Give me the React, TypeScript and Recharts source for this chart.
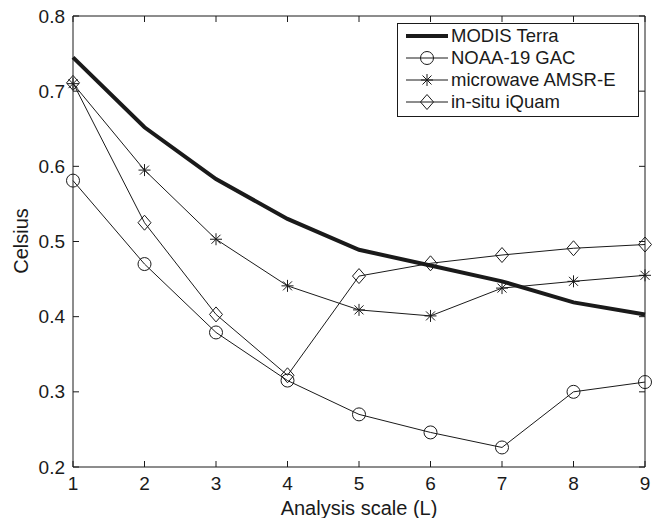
import React from "react";
import { LineChart, Line, XAxis, YAxis } from "recharts";

const scales = [1, 2, 3, 4, 5, 6, 7, 8, 9];
const modisTerra = [0.745, 0.652, 0.583, 0.53, 0.489, 0.468, 0.447, 0.419, 0.403];
const noaa19 = [0.581, 0.47, 0.379, 0.315, 0.27, 0.246, 0.226, 0.3, 0.313];
const amsrE = [0.71, 0.595, 0.503, 0.441, 0.409, 0.401, 0.438, 0.447, 0.455];
const iQuam = [0.711, 0.525, 0.403, 0.322, 0.454, 0.471, 0.482, 0.491, 0.496];
const yTicks = [0.2, 0.3, 0.4, 0.5, 0.6, 0.7, 0.8];

const seriesNames = ["MODIS Terra", "NOAA-19 GAC", "microwave AMSR-E", "in-situ iQuam"];
const markers = ["none", "circle", "star", "diamond"];

const data = scales.map((s, i) => ({
  scale: s,
  modis: modisTerra[i],
  noaa: noaa19[i],
  amsr: amsrE[i],
  iquam: iQuam[i],
}));

const FONT = "'Liberation Sans', Arial, Helvetica, sans-serif";
const INK = "#1a1a1a";
const TICK_FS = 19;
const LABEL_FS = 20;

function Marker({ kind, cx, cy }: { kind: string; cx: number; cy: number }) {
  if (kind === "circle") {
    return <circle cx={cx} cy={cy} r={6.5} fill="none" stroke={INK} strokeWidth={1} />;
  }
  if (kind === "star") {
    const s = 6;
    const d = 4.5;
    return (
      <g stroke={INK} strokeWidth={1}>
        <line x1={cx - s} y1={cy} x2={cx + s} y2={cy} />
        <line x1={cx} y1={cy - s} x2={cx} y2={cy + s} />
        <line x1={cx - d} y1={cy - d} x2={cx + d} y2={cy + d} />
        <line x1={cx - d} y1={cy + d} x2={cx + d} y2={cy - d} />
      </g>
    );
  }
  if (kind === "diamond") {
    return (
      <path
        d={`M${cx},${cy - 7.5} L${cx + 6.5},${cy} L${cx},${cy + 7.5} L${cx - 6.5},${cy} Z`}
        fill="none"
        stroke={INK}
        strokeWidth={1}
      />
    );
  }
  return null;
}

const dotFor = (kind: string) => (p: any) => (
  <g key={`${kind}-${p.index}`}>
    <Marker kind={kind} cx={p.cx} cy={p.cy} />
  </g>
);

const BottomTick = ({ x, y, payload }: any) => (
  <g>
    <line x1={x} x2={x} y1={y} y2={y - 6} stroke={INK} />
    <text x={x} y={y + 23} textAnchor="middle" fontSize={TICK_FS} fontFamily={FONT} fill={INK}>
      {payload.value}
    </text>
  </g>
);

const TopTick = ({ x, y }: any) => <line x1={x} x2={x} y1={y} y2={y + 6} stroke={INK} />;

const LeftTick = ({ x, y, payload }: any) => (
  <g>
    <line x1={x} x2={x + 6} y1={y} y2={y} stroke={INK} />
    <text x={x - 8} y={y} dy="0.35em" textAnchor="end" fontSize={TICK_FS} fontFamily={FONT} fill={INK}>
      {payload.value.toFixed(1)}
    </text>
  </g>
);

const RightTick = ({ x, y }: any) => <line x1={x} x2={x - 6} y1={y} y2={y} stroke={INK} />;

function LegendBox() {
  return (
    <div
      style={{
        position: "absolute",
        left: 397,
        top: 23,
        width: 240,
        border: `1px solid ${INK}`,
        background: "#fff",
        padding: "1px 0 3px 0",
        fontFamily: FONT,
        fontSize: 18.5,
        color: INK,
      }}
    >
      {seriesNames.map((name, i) => (
        <div key={name} style={{ display: "flex", alignItems: "center", height: 22 }}>
          <svg width={52} height={22} style={{ flex: "none" }}>
            <line x1={8} x2={50} y1={11} y2={11} stroke={INK} strokeWidth={i === 0 ? 4 : 1} />
            <Marker kind={markers[i]} cx={29} cy={11} />
          </svg>
          <span style={{ marginLeft: 1, lineHeight: "22px", whiteSpace: "nowrap" }}>{name}</span>
        </div>
      ))}
    </div>
  );
}

export default function App() {
  return (
    <div style={{ position: "absolute", left: 0, top: 0, width: 652, height: 518, background: "#fff" }}>
      <LineChart width={652} height={518} data={data} margin={{ top: 15, right: 6, bottom: 0, left: 0 }}>
        <XAxis
          dataKey="scale"
          type="number"
          domain={[1, 9]}
          ticks={scales}
          height={51}
          stroke={INK}
          tickSize={0}
          tickMargin={0}
          tickLine={false}
          tick={<BottomTick />}
          label={{
            content: () => (
              <text x={359} y={515} textAnchor="middle" fontSize={LABEL_FS} fontFamily={FONT} fill={INK}>
                Analysis scale (L)
              </text>
            ),
          }}
        />
        <XAxis
          xAxisId="top"
          orientation="top"
          dataKey="scale"
          type="number"
          domain={[1, 9]}
          ticks={scales}
          height={1}
          stroke={INK}
          tickSize={0}
          tickMargin={0}
          tickLine={false}
          tick={<TopTick />}
        />
        <YAxis
          type="number"
          domain={[0.2, 0.8]}
          ticks={yTicks}
          width={73}
          stroke={INK}
          tickSize={0}
          tickMargin={0}
          tickLine={false}
          tick={<LeftTick />}
          label={{
            content: () => (
              <text
                x={21}
                y={241}
                transform="rotate(-90 21 241)"
                textAnchor="middle"
                dominantBaseline="central"
                fontSize={LABEL_FS}
                fontFamily={FONT}
                fill={INK}
              >
                Celsius
              </text>
            ),
          }}
        />
        <YAxis
          yAxisId="right"
          orientation="right"
          type="number"
          domain={[0.2, 0.8]}
          ticks={yTicks}
          width={1}
          stroke={INK}
          tickSize={0}
          tickMargin={0}
          tickLine={false}
          tick={<RightTick />}
        />
        {/* invisible series so the mirrored top/right axes get drawn */}
        <Line
          xAxisId="top"
          yAxisId="right"
          dataKey="modis"
          stroke="none"
          dot={false}
          activeDot={false}
          legendType="none"
          isAnimationActive={false}
        />
        <Line dataKey="modis" stroke={INK} strokeWidth={4} dot={false} isAnimationActive={false} />
        <Line dataKey="noaa" stroke={INK} strokeWidth={1} dot={dotFor("circle")} isAnimationActive={false} />
        <Line dataKey="amsr" stroke={INK} strokeWidth={1} dot={dotFor("star")} isAnimationActive={false} />
        <Line dataKey="iquam" stroke={INK} strokeWidth={1} dot={dotFor("diamond")} isAnimationActive={false} />
      </LineChart>
      <LegendBox />
    </div>
  );
}
